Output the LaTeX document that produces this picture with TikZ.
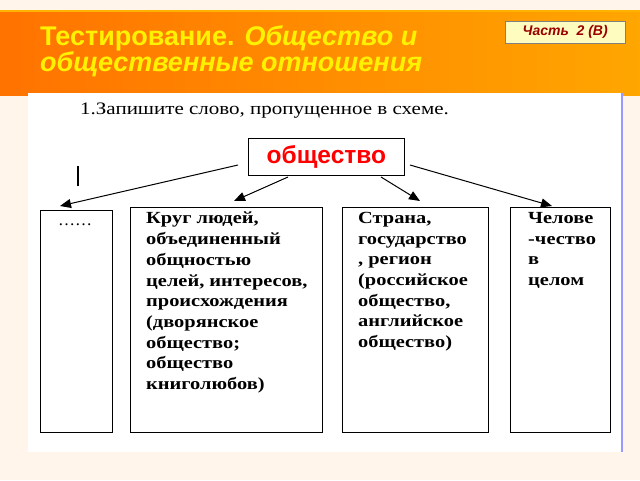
\documentclass[tikz,border=0pt]{standalone}
\usepackage{fontspec}
\setmainfont{Liberation Serif}
\newfontfamily\sansf{Liberation Sans}
\newfontfamily\widef[FakeStretch=1.2]{Liberation Serif}
\usetikzlibrary{arrows.meta}
\begin{document}
\begin{tikzpicture}[x=1pt,y=-1pt,
  box/.style={draw,line width=0.8pt,fill=white,anchor=north west,inner sep=0pt},
  txt/.style={anchor=north west,align=left,font=\widef\bfseries\fontsize{17}{20.7}\selectfont,inner sep=0pt},
  arr/.style={-{Triangle[length=11pt,width=9pt]},line width=1pt}]
\useasboundingbox (0,0) rectangle (640,480);
\fill[orange!8] (0,0) rectangle (640,480);
\shade[left color=orange!90!red,right color=orange!70!yellow] (0,10) rectangle (640,95);
\draw[orange!60!yellow,line width=1.5pt] (0,11) -- (640,11);
\node[anchor=north west,text=yellow,font=\sansf\bfseries\fontsize{27}{25}\selectfont,align=left,inner sep=0pt] (title) at (40,25) {Тестирование. \textit{Общество и}\\\textit{общественные отношения}};
\node[draw=gray,fill=yellow!25,minimum width=120pt,minimum height=22pt,anchor=north west,font=\sansf\bfseries\itshape\fontsize{14}{14}\selectfont,text=red!60!black] (part) at (505,21) {Часть\ \ 2 (В)};
\fill[white] (28,93) rectangle (622,452);
\draw[blue!40,line width=1.2pt] (622,93) -- (622,452);
\node[anchor=west,font=\widef\fontsize{17.5}{17}\selectfont,inner sep=0pt] (q) at (80,111) {1.Запишите слово, пропущенное в схеме.};
\node[draw,line width=0.8pt,minimum width=156pt,minimum height=37pt,anchor=north west,font=\sansf\bfseries\fontsize{24.5}{24}\selectfont,text=red] (soc) at (248,138) {общество};
\node[box,minimum width=72pt,minimum height=222pt] (b1) at (40,210) {};
\node[box,minimum width=192pt,minimum height=225pt] (b2) at (130,207) {};
\node[box,minimum width=146pt,minimum height=225pt] (b3) at (342,207) {};
\node[box,minimum width=100pt,minimum height=225pt] (b4) at (510,207) {};
\node[txt] (t1) at (58,224) {\normalfont ……};
\node[txt] (t2) at (146,212) {Круг людей,\\объединенный\\общностью\\целей, интересов,\\происхождения\\(дворянское\\общество;\\общество\\книголюбов)};
\node[txt] (t3) at (358,212) {Страна,\\государство\\, регион\\(российское\\общество,\\английское\\общество)};
\node[txt] (t4) at (528,212) {Челове\\-чество\\в\\целом};
\coordinate (a1) at (238,165); \coordinate (e1) at (60,206);
\coordinate (a2) at (288,177); \coordinate (e2) at (234,201);
\coordinate (a3) at (381,177); \coordinate (e3) at (420,201);
\coordinate (a4) at (410,165); \coordinate (e4) at (552,206);
\draw[arr] (a1) -- (e1);
\draw[arr] (a2) -- (e2);
\draw[arr] (a3) -- (e3);
\draw[arr] (a4) -- (e4);
\coordinate (v1) at (78,166); \coordinate (v2) at (78,186);
\draw[line width=1.2pt] (v1) -- (v2);
\end{tikzpicture}
\end{document}
